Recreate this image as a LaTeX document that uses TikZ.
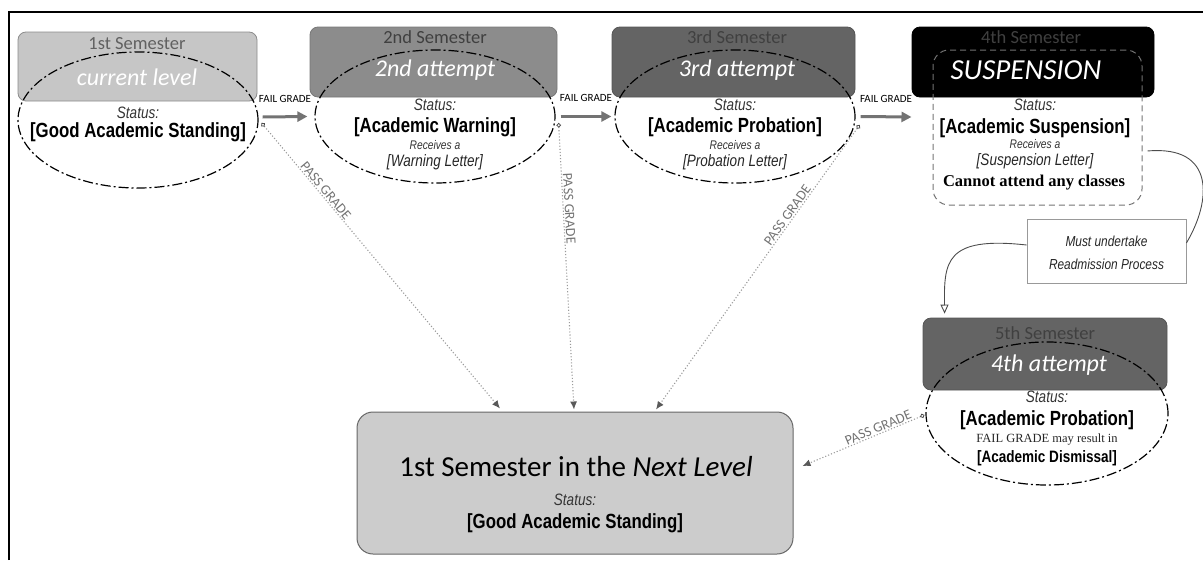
\documentclass[tikz,border=0pt]{standalone}
\usepackage{fontspec}
\setmainfont{Liberation Sans}
\newfontfamily\calibri{Carlito}
\newfontfamily\narrowsans[FakeStretch=0.82]{Liberation Sans}
\newfontfamily\timesfont{Liberation Serif}
\usetikzlibrary{arrows.meta,shapes.geometric}
\definecolor{fillA}{HTML}{C6C6C6}
\definecolor{fillB}{HTML}{8C8C8C}
\definecolor{fillC}{HTML}{646464}
\definecolor{fillN}{HTML}{CCCCCC}
\definecolor{semtxt}{HTML}{404040}
\definecolor{arrgray}{HTML}{737373}
\definecolor{dotgray}{HTML}{9A9A9A}
\newcommand\semfont{\calibri\fontsize{18.5}{20}\selectfont}
\newcommand\handfont[1]{\calibri\itshape\fontsize{#1}{#1}\selectfont}
\newcommand\statusfont{\narrowsans\itshape\fontsize{16.5}{18}\selectfont}
\newcommand\bigbold{\narrowsans\bfseries\fontsize{20.5}{22}\selectfont}
\newcommand\smallital{\narrowsans\itshape\fontsize{12.5}{14}\selectfont}
\newcommand\letterfont{\narrowsans\itshape\fontsize{16.5}{18}\selectfont}
\tikzset{
  sembox/.style={rectangle, rounded corners=8pt, inner sep=0pt, line width=0.8pt},
  oval/.style={ellipse, draw=black, line width=1.2pt, inner sep=0pt,
    dash pattern=on 10pt off 3pt on 2pt off 3pt},
  lbl/.style={inner sep=0pt, anchor=center},
  failarr/.style={draw=arrgray, line width=3pt, -{Triangle[length=10pt,width=10pt]}},
  passarr/.style={draw=dotgray, line width=1.1pt, dotted,
    {Circle[open,length=4.5pt,width=4.5pt,line width=0.8pt,color=black!70]}-{Latex[length=8pt,width=7pt,color=black!65]}},
  faillbl/.style={font=\calibri\fontsize{11}{12}\selectfont, text=black, inner sep=0pt},
  passlbl/.style={font=\calibri\fontsize{14}{15}\selectfont, text=black!55, inner sep=1pt, sloped},
  curve/.style={draw=black!70, line width=0.9pt}
}
\begin{document}
\begin{tikzpicture}[x=1pt,y=-1pt]
\useasboundingbox (0,0) rectangle (1203,560);
% frame
\draw[line width=2pt] (9,560) -- (9,12) -- (1203,12);

% semester boxes
\node[sembox, fill=fillA, draw=black!45, minimum width=239pt, minimum height=69pt] (b1) at (137.5,66.5) {};
\node[sembox, fill=fillB, draw=fillB!85!black, minimum width=247pt, minimum height=70pt] (b2) at (433.5,62) {};
\node[sembox, fill=fillC, draw=fillC!85!black, minimum width=243pt, minimum height=70pt] (b3) at (733.5,62) {};
\node[sembox, fill=black, draw=black, minimum width=242pt, minimum height=70pt] (b4) at (1033,62) {};
\node[sembox, fill=fillC, draw=fillC!85!black, minimum width=244pt, minimum height=72pt] (b5) at (1045,354) {};
\node[sembox, rounded corners=16pt, fill=fillN, draw=black!60, line width=1pt, minimum width=436pt, minimum height=142pt] (nl) at (575,483) {};
\node[rectangle, draw=black!40, fill=white, line width=0.8pt, minimum width=159pt, minimum height=64pt, inner sep=0pt] (rd) at (1106.5,251) {};

% ovals and dashed box
\node[oval, minimum width=240pt, minimum height=136pt] (e1) at (138,120) {};
\node[oval, minimum width=240pt, minimum height=133pt] (e2) at (435,116.5) {};
\node[oval, minimum width=240pt, minimum height=133pt] (e3) at (735,116.5) {};
\node[rectangle, rounded corners=16pt, draw=black!55, line width=1pt, dash pattern=on 6pt off 4pt, minimum width=209pt, minimum height=155pt, inner sep=0pt] (r4) at (1037.5,127.5) {};
\node[oval, minimum width=242pt, minimum height=143pt] (e5) at (1047,413.5) {};

% texts box 1
\node[lbl, text=black!62] (t1a) at (137,44) {\semfont 1st Semester};
\node[lbl, text=white] (t1b) at (137,77) {\handfont{24}current level};
\node[lbl, text=black!80] (t1c) at (138,113) {\statusfont Status:};
\node[lbl] (t1d) at (138,132) {\bigbold [Good Academic Standing]};

% texts box 2
\node[lbl, text=semtxt] (t2a) at (435,37) {\semfont 2nd Semester};
\node[lbl, text=white] (t2b) at (435,70) {\handfont{24}2nd attempt};
\node[lbl, text=black!80] (t2c) at (435,105) {\statusfont Status:};
\node[lbl] (t2d) at (435,127) {\bigbold [Academic Warning]};
\node[lbl, text=black!80] (t2e) at (435,145) {\smallital Receives a};
\node[lbl, text=black!85] (t2f) at (435,162) {\letterfont [Warning Letter]};

% texts box 3
\node[lbl, text=semtxt] (t3a) at (737,37) {\semfont 3rd Semester};
\node[lbl, text=white] (t3b) at (737,70) {\handfont{24}3rd attempt};
\node[lbl, text=black!80] (t3c) at (735,105) {\statusfont Status:};
\node[lbl] (t3d) at (735,127) {\bigbold [Academic Probation]};
\node[lbl, text=black!80] (t3e) at (735,145) {\smallital Receives a};
\node[lbl, text=black!85] (t3f) at (735,162) {\letterfont [Probation Letter]};

% texts box 4
\node[lbl, text=semtxt] (t4a) at (1031,37) {\semfont 4th Semester};
\node[lbl, text=white] (t4b) at (1026,70) {\handfont{29}SUSPENSION};
\node[lbl, text=black!80] (t4c) at (1035,105) {\statusfont Status:};
\node[lbl] (t4d) at (1035,128) {\bigbold [Academic Suspension]};
\node[lbl, text=black!80] (t4e) at (1035,144) {\smallital Receives a};
\node[lbl, text=black!85] (t4f) at (1035,161) {\letterfont [Suspension Letter]};
\node[lbl] (t4g) at (1034,183) {\timesfont\bfseries\fontsize{16.5}{18}\selectfont Cannot attend any classes};

% texts box 5
\node[lbl, text=semtxt] (t5a) at (1045,333) {\semfont 5th Semester};
\node[lbl, text=white] (t5b) at (1049,365) {\handfont{24}4th attempt};
\node[lbl, text=black!80] (t5c) at (1047,397) {\statusfont Status:};
\node[lbl] (t5d) at (1047,420) {\bigbold [Academic Probation]};
\node[lbl, text=black!85] (t5e) at (1047,440) {\timesfont\fontsize{12.5}{14}\selectfont FAIL GRADE may result in};
\node[lbl] (t5f) at (1047,458) {\narrowsans\bfseries\fontsize{16.5}{18}\selectfont [Academic Dismissal]};

% next level texts
\node[lbl] (tna) at (576,467) {\calibri\fontsize{29}{30}\selectfont 1st Semester in the \itshape Next Level};
\node[lbl, text=black!80] (tnb) at (575,500) {\statusfont Status:};
\node[lbl] (tnc) at (575,523) {\bigbold [Good Academic Standing]};

% readmission text
\node[lbl, align=center, text=black!85, font=\narrowsans\itshape\fontsize{14.5}{23}\selectfont] (trd) at (1106.5,253) {Must undertake\\Readmission Process};

% fail arrows
\draw[failarr] ([xshift=4pt,yshift=3pt]e1.east) -- node[faillbl, above=13pt] (f1) {FAIL GRADE} ([xshift=-7pt]e2.west);
\draw[failarr] ([xshift=5pt]e2.east) -- node[faillbl, above=13pt] (f2) {FAIL GRADE} ([xshift=-3pt]e3.west);
\draw[failarr] ([xshift=5pt]e3.east) -- node[faillbl, above=13pt] (f3) {FAIL GRADE} ([xshift=-21pt,yshift=10.5pt]r4.west);

% pass arrows
\draw[passarr] ([xshift=3pt,yshift=-3pt]e1.east) -- node[passlbl, pos=0.25, above] (p1) {PASS GRADE} ([xshift=-75pt,yshift=3pt]nl.north);
\draw[passarr] ([xshift=3pt,yshift=-6.5pt]e2.east) -- node[passlbl, pos=0.3, above] (p2) {PASS GRADE} ([xshift=-1pt,yshift=2pt]nl.north);
\draw[passarr] ([xshift=4pt,yshift=-8.5pt]e3.east) -- node[passlbl, pos=0.33, above] (p3) {PASS GRADE} ([xshift=81pt,yshift=2pt]nl.north);
\draw[passarr] ([xshift=-1pt,yshift=-1.5pt]e5.west) -- node[passlbl, pos=0.36, above] (p4) {PASS GRADE} ([xshift=9pt,yshift=17pt]nl.east);

% readmission curves
\draw[curve] ([xshift=5pt,yshift=-23.5pt]r4.east) .. controls (1215,145) and (1212,200) .. ([yshift=8pt]rd.east);
\draw[curve, -{Triangle[open,length=9pt,width=8pt]}] ([yshift=6pt]rd.west) .. controls (945,236) and (944,262) .. ([xshift=22pt,yshift=4pt]b5.north west);
\end{tikzpicture}
\end{document}
